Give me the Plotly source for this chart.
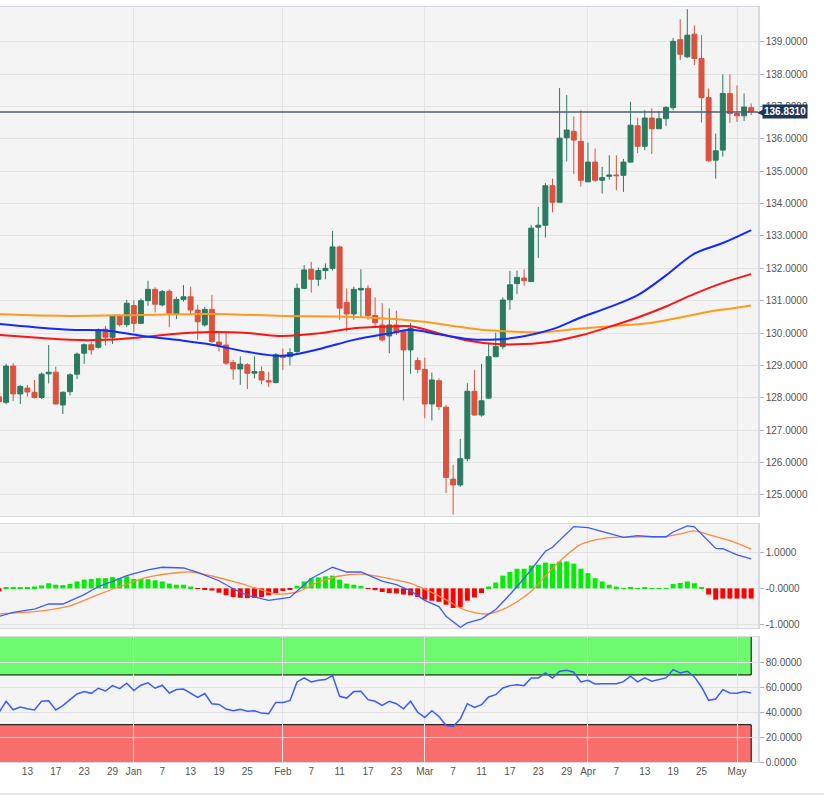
import pandas as pd
import plotly.graph_objects as go

# ---------------- data ----------------
dates = pd.bdate_range("2021-12-07", "2022-05-04")          # trading days shown
bars = list(range(len(dates)))                                # bar number on the trading-day axis
pos = {d.strftime("%Y-%m-%d"): i for i, d in enumerate(dates)}

opens = [128.03, 127.86, 128.98, 128.12, 128.30, 128.17, 128.01, 128.74, 128.79, 127.78,
         128.19, 128.73, 129.38, 129.64, 129.56, 130.12, 129.87, 130.53, 130.26, 130.85,
         130.30, 131.00, 131.35, 130.87, 131.29, 130.58, 131.04, 131.12, 130.71, 130.25,
         130.73, 129.72, 129.63, 129.09, 128.89, 129.02, 128.76, 128.81, 128.53, 128.47,
         129.29, 129.27, 129.43, 131.38, 131.97, 131.66, 131.93, 132.00, 132.66, 130.94,
         130.59, 131.33, 131.38, 130.54, 130.25, 129.91, 130.25, 130.05, 129.48, 129.15,
         128.88, 127.81, 128.53, 127.71, 125.49, 125.31, 126.12, 128.20, 127.47, 127.99,
         129.27, 129.58, 131.03, 131.53, 131.70, 131.59, 133.27, 133.33, 134.55, 134.04,
         136.03, 136.23, 135.92, 134.67, 135.28, 134.72, 134.84, 134.88, 134.87, 135.28,
         136.40, 135.77, 136.64, 136.31, 136.62, 136.96, 139.06, 138.53, 139.23, 138.48,
         137.27, 135.34, 135.65, 137.40, 136.78, 136.71, 136.96]
highs = [128.10, 129.05, 129.07, 128.40, 128.40, 128.55, 128.78, 129.63, 128.96, 128.20,
         128.76, 129.40, 129.68, 129.73, 130.14, 130.22, 130.56, 130.59, 131.02, 131.02,
         131.07, 131.62, 131.41, 131.33, 131.35, 131.12, 131.48, 131.43, 130.87, 130.81,
         131.18, 130.00, 130.05, 129.17, 129.28, 129.07, 129.28, 128.97, 128.81, 129.38,
         129.52, 129.53, 131.53, 132.10, 132.20, 132.03, 132.15, 133.15, 132.70, 131.38,
         131.43, 131.97, 131.48, 131.10, 130.92, 130.76, 130.69, 130.10, 130.31, 129.25,
         129.24, 128.78, 128.60, 127.78, 125.93, 126.73, 128.45, 128.86, 129.05, 129.69,
         130.01, 131.10, 131.92, 131.93, 131.97, 133.34, 133.89, 134.63, 134.77, 137.57,
         137.35, 136.69, 136.88, 135.88, 135.70, 135.13, 135.49, 135.49, 135.38, 137.14,
         136.65, 136.88, 136.94, 136.86, 137.00, 139.11, 139.69, 140.00, 139.50, 139.20,
         137.55, 136.16, 137.99, 137.99, 137.65, 137.40, 137.09]
lows = [127.80, 127.80, 127.90, 127.81, 128.04, 127.98, 127.96, 128.44, 127.81, 127.50,
        128.07, 128.58, 129.05, 129.33, 129.52, 129.62, 129.66, 130.20, 130.18, 130.03,
        130.28, 130.84, 130.64, 130.82, 130.18, 130.43, 130.97, 130.61, 129.79, 130.20,
        129.69, 129.43, 129.02, 128.56, 128.40, 128.27, 128.60, 128.42, 128.33, 128.45,
        128.86, 129.00, 129.38, 131.35, 131.25, 131.45, 131.66, 131.93, 130.41, 130.05,
        130.41, 130.50, 130.41, 130.18, 129.74, 129.38, 129.94, 127.92, 128.74, 128.76,
        127.37, 127.30, 127.62, 125.06, 124.39, 125.25, 126.04, 127.45, 127.42, 127.99,
        129.25, 129.50, 130.72, 131.21, 131.46, 131.59, 132.32, 132.95, 133.73, 134.04,
        135.30, 134.91, 134.52, 134.67, 134.67, 134.31, 134.74, 134.41, 134.36, 135.28,
        135.56, 135.65, 135.53, 136.30, 136.40, 136.88, 138.43, 138.50, 138.28, 136.50,
        135.29, 134.77, 135.45, 136.49, 136.52, 136.55, 136.73]
closes = [127.88, 128.98, 128.12, 128.35, 128.18, 128.01, 128.73, 128.79, 127.81, 128.17,
          128.71, 129.35, 129.64, 129.48, 130.10, 129.87, 130.53, 130.26, 130.92, 130.30,
          131.00, 131.35, 130.89, 131.28, 130.61, 131.04, 131.12, 130.71, 130.35, 130.73,
          129.74, 129.63, 129.07, 128.89, 129.04, 128.76, 128.81, 128.55, 128.49, 129.33,
          129.25, 129.40, 131.38, 131.95, 131.66, 131.93, 132.00, 132.66, 130.77, 130.59,
          131.35, 131.38, 130.54, 130.32, 129.79, 130.25, 130.01, 129.48, 130.15, 128.88,
          127.81, 128.55, 127.73, 125.54, 125.31, 126.12, 128.20, 127.47, 127.91, 129.27,
          129.58, 131.02, 131.49, 131.72, 131.62, 133.24, 133.33, 134.55, 134.04, 136.02,
          136.27, 135.96, 134.72, 135.28, 134.72, 134.80, 134.88, 134.86, 135.28, 136.42,
          135.77, 136.64, 136.31, 136.62, 136.97, 139.01, 138.61, 139.20, 138.48, 137.27,
          135.32, 135.63, 137.40, 136.78, 136.71, 136.98, 136.831]

# moving averages (read at selected bars)
ma_blue_bar = [0, 5, 10, 15, 20, 25, 30, 35, 40, 45, 50, 55, 58, 62, 66, 70, 74, 78, 82, 86, 90, 94, 98, 102, 106]
ma_blue = [130.28, 130.18, 130.10, 130.08, 129.92, 129.79, 129.64, 129.42, 129.30, 129.50, 129.79, 129.99, 130.10,
           129.96, 129.82, 129.80, 129.90, 130.12, 130.48, 130.80, 131.17, 131.78, 132.45, 132.78, 133.18]
ma_red_bar = [0, 5, 10, 15, 20, 25, 30, 35, 40, 45, 50, 55, 58, 62, 66, 70, 74, 78, 82, 86, 90, 94, 98, 102, 106]
ma_red = [129.94, 129.86, 129.79, 129.79, 129.87, 129.98, 130.03, 130.00, 129.91, 129.99, 130.15, 130.20, 130.21,
          129.99, 129.77, 129.66, 129.66, 129.74, 129.93, 130.19, 130.48, 130.82, 131.21, 131.55, 131.82]
ma_orange_bar = [0, 10, 20, 30, 40, 47, 52, 57, 60, 64, 68, 72, 77, 82, 88, 92, 96, 100, 103, 106]
ma_orange = [130.58, 130.53, 130.56, 130.59, 130.53, 130.51, 130.48, 130.41, 130.35, 130.22, 130.10, 130.05,
             130.03, 130.14, 130.24, 130.32, 130.48, 130.66, 130.75, 130.85]

# MACD
macd_hist = [-0.08, 0.02, 0.03, 0.03, 0.04, 0.05, 0.08, 0.14, 0.10, 0.09,
             0.12, 0.19, 0.24, 0.26, 0.28, 0.28, 0.31, 0.28, 0.33, 0.26,
             0.26, 0.25, 0.22, 0.19, 0.13, 0.10, 0.10, 0.05, -0.01, -0.02,
             -0.06, -0.12, -0.19, -0.24, -0.26, -0.27, -0.26, -0.24, -0.19, -0.13,
             -0.07, -0.04, 0.07, 0.19, 0.28, 0.30, 0.33, 0.35, 0.24, 0.13,
             0.10, 0.07, -0.01, -0.05, -0.10, -0.13, -0.14, -0.17, -0.19, -0.24,
             -0.31, -0.34, -0.37, -0.45, -0.54, -0.52, -0.34, -0.25, -0.13, 0.05,
             0.16, 0.35, 0.45, 0.54, 0.54, 0.63, 0.65, 0.71, 0.67, 0.74,
             0.74, 0.68, 0.54, 0.42, 0.28, 0.19, 0.10, 0.05, 0.01, 0.04,
             0.01, 0.03, 0.01, 0.005, 0.005, 0.12, 0.15, 0.19, 0.14, 0.02,
             -0.17, -0.31, -0.28, -0.28, -0.28, -0.28, -0.28]
macd_bar = [0, 2, 4, 5, 7, 9, 12, 14, 16, 18, 21, 23, 26, 28, 31, 33, 35, 38, 41, 44, 47, 49, 51, 54, 56, 58,
            60, 62, 63, 65, 66, 68, 70, 72, 74, 77, 78, 81, 83, 85, 88, 90, 92, 94, 95, 97, 98, 101, 102, 104, 106]
macd_line = [-0.77, -0.66, -0.60, -0.57, -0.43, -0.43, -0.17, 0.05, 0.19, 0.35, 0.51, 0.58, 0.56, 0.44, 0.21,
             -0.01, -0.19, -0.33, -0.25, 0.27, 0.58, 0.45, 0.45, 0.20, 0.10, -0.07, -0.33, -0.50, -0.77, -1.07,
             -0.95, -0.84, -0.58, -0.17, 0.27, 1.02, 1.13, 1.70, 1.67, 1.57, 1.40, 1.45, 1.42, 1.42, 1.55, 1.72,
             1.69, 1.10, 1.09, 0.92, 0.81]
signal_bar = [0, 5, 10, 14, 18, 21, 25, 27, 30, 33, 36, 39, 42, 45, 48, 51, 55, 58, 60, 63, 65, 67, 69, 71, 73,
              75, 78, 80, 82, 85, 88, 91, 94, 96, 98, 100, 103, 106]
signal_line = [-0.70, -0.64, -0.48, -0.17, 0.12, 0.31, 0.43, 0.45, 0.34, 0.19, 0.02, -0.15, -0.10, 0.17, 0.34,
               0.39, 0.27, 0.14, -0.02, -0.31, -0.54, -0.67, -0.70, -0.58, -0.37, -0.08, 0.55, 0.92, 1.21, 1.37,
               1.41, 1.42, 1.42, 1.50, 1.58, 1.48, 1.31, 1.08]

# RSI
rsi = [39.9, 48.8, 42.0, 44.2, 42.8, 41.8, 48.8, 49.3, 41.8, 45.3,
       50.1, 54.7, 56.6, 55.2, 59.3, 57.1, 61.4, 59.0, 63.3, 57.4,
       61.7, 63.6, 59.3, 61.7, 55.5, 58.2, 58.7, 55.0, 52.0, 55.0,
       46.9, 46.3, 42.6, 41.2, 42.3, 40.9, 41.2, 39.3, 38.8, 47.9,
       47.9, 49.3, 64.4, 67.6, 64.4, 65.7, 66.3, 69.5, 52.8, 51.4,
       56.6, 56.8, 50.1, 48.8, 45.5, 48.8, 46.9, 42.8, 48.8, 40.0,
       35.8, 41.2, 36.6, 29.4, 28.6, 34.5, 46.9, 43.9, 46.1, 52.3,
       54.1, 59.5, 61.4, 62.2, 61.4, 67.6, 67.6, 71.6, 67.6, 73.0,
       73.8, 72.2, 64.4, 65.7, 62.8, 63.0, 63.0, 63.0, 64.6, 69.0,
       64.4, 67.6, 64.9, 66.3, 67.6, 74.3, 71.6, 73.0, 68.4, 60.3,
       49.6, 50.6, 58.2, 55.5, 55.2, 56.6, 55.5]
rsi_overbought = 70
rsi_oversold = 30

price_ticks = list(range(125, 140))
tick_dates = ["2021-12-07", "2021-12-13", "2021-12-17", "2021-12-23", "2021-12-29", "2022-01-03",
              "2022-01-07", "2022-01-13", "2022-01-19", "2022-01-25", "2022-02-01", "2022-02-07",
              "2022-02-11", "2022-02-17", "2022-02-23", "2022-03-01", "2022-03-07", "2022-03-11",
              "2022-03-17", "2022-03-23", "2022-03-29", "2022-04-01", "2022-04-07", "2022-04-13",
              "2022-04-19", "2022-04-25", "2022-05-02"]
tick_labels = ["7", "13", "17", "23", "29", "Jan", "7", "13", "19", "25", "Feb", "7", "11", "17", "23",
               "Mar", "7", "11", "17", "23", "29", "Apr", "7", "13", "19", "25", "May"]
month_dates = ["2022-01-03", "2022-02-01", "2022-03-01", "2022-04-01", "2022-05-02"]

# ---------------- style ----------------
UP = "#2b7a62"
DN = "#d9533f"
GRID = "#e3e3e3"
BORDER = "#d6d8e2"
TXT = "#555555"
FONT = "Liberation Sans, Arial, sans-serif"
XR = [0.14, 106.96]

tick_pos = [pos[d] for d in tick_dates]
month_pos = [pos[d] for d in month_dates]

fig = go.Figure()

fig.add_trace(go.Candlestick(
    x=bars, open=opens, high=highs, low=lows, close=closes,
    increasing=dict(line=dict(color=UP, width=1), fillcolor=UP),
    decreasing=dict(line=dict(color=DN, width=1), fillcolor=DN),
    whiskerwidth=0, showlegend=False, hoverinfo="skip", xaxis="x", yaxis="y"))

for bx, vals, col in [(ma_orange_bar, ma_orange, "#ff9a1f"),
                      (ma_red_bar, ma_red, "#ff1414"),
                      (ma_blue_bar, ma_blue, "#1428ff")]:
    fig.add_trace(go.Scatter(x=bx, y=vals, mode="lines",
                             line=dict(color=col, width=2, shape="spline", smoothing=1),
                             showlegend=False, hoverinfo="skip", xaxis="x", yaxis="y"))

fig.add_trace(go.Bar(x=bars, y=macd_hist,
                     marker=dict(color=["#00ee00" if v >= 0 else "#ff0000" for v in macd_hist], line=dict(width=0)),
                     showlegend=False, hoverinfo="skip", xaxis="x2", yaxis="y2"))
fig.add_trace(go.Scatter(x=signal_bar, y=signal_line, mode="lines",
                         line=dict(color="#ff8a3d", width=1.3, shape="spline", smoothing=0.8),
                         showlegend=False, hoverinfo="skip", xaxis="x2", yaxis="y2"))
fig.add_trace(go.Scatter(x=macd_bar, y=macd_line, mode="lines",
                         line=dict(color="#3c5bff", width=1.3),
                         showlegend=False, hoverinfo="skip", xaxis="x2", yaxis="y2"))

fig.add_trace(go.Scatter(x=bars, y=rsi, mode="lines", line=dict(color="#3c5bff", width=1.5),
                         showlegend=False, hoverinfo="skip", xaxis="x3", yaxis="y3"))

H = 797 - 7 - 35
def dom(top_px, bot_px):
    return [(762 - bot_px) / H, (762 - top_px) / H]

xcommon = dict(range=XR, showline=True, mirror=True, linecolor=BORDER, linewidth=1,
               zeroline=False, fixedrange=True)
ycommon = dict(side="right", showline=True, linecolor=BORDER, linewidth=1.5, gridcolor=GRID,
               zeroline=False, ticks="outside", ticklen=4, tickcolor="#aab0bc",
               tickfont=dict(size=10, color=TXT, family=FONT))

fig.update_layout(
    width=824, height=797,
    margin=dict(l=0, r=66, t=7, b=35),
    paper_bgcolor="white", plot_bgcolor="#f4f4f4",
    font=dict(family=FONT, color=TXT),
    showlegend=False, bargap=0.3, boxgap=0.3, boxgroupgap=0,
    xaxis=dict(domain=[0, 1], anchor="y", tickmode="array", tickvals=month_pos, showticklabels=False,
               showgrid=True, gridcolor=GRID, rangeslider=dict(visible=False), **xcommon),
    xaxis2=dict(domain=[0, 1], anchor="y2", tickmode="array", tickvals=month_pos, showticklabels=False,
                showgrid=True, gridcolor=GRID, **xcommon),
    xaxis3=dict(domain=[0, 1], anchor="y3", tickmode="array", tickvals=tick_pos, ticktext=tick_labels,
                showgrid=False, ticks="", tickfont=dict(size=10, color=TXT, family=FONT),
                minor=dict(tickmode="array", tickvals=month_pos, showgrid=True, gridcolor=GRID, ticks=""),
                **xcommon),
    yaxis=dict(domain=dom(7, 516), anchor="x", range=[124.35, 140.07], tickmode="array",
               tickvals=price_ticks, ticktext=[f"{v:.4f}" for v in price_ticks], **ycommon),
    yaxis2=dict(domain=dom(524, 628), anchor="x2", range=[-1.09, 1.77], tickmode="array",
                tickvals=[-1, 0, 1], ticktext=["-1.0000", "-0.0000", "1.0000"], **ycommon),
    yaxis3=dict(domain=dom(637, 762), anchor="x3", range=[0, 100.5], tickmode="array",
                tickvals=[0, 20, 40, 60, 80], ticktext=[f"{v:.4f}" for v in [0, 20, 40, 60, 80]], **ycommon),
)

# RSI zones
fig.add_shape(type="rect", xref="x3", yref="y3", x0=bars[0] - 2, x1=bars[-1], y0=rsi_overbought, y1=102,
              fillcolor="rgba(0,255,0,0.55)", line=dict(color="black", width=1), layer="below")
fig.add_shape(type="rect", xref="x3", yref="y3", x0=bars[0] - 2, x1=bars[-1], y0=-2, y1=rsi_oversold,
              fillcolor="rgba(255,0,0,0.55)", line=dict(color="black", width=1), layer="below")

# current price line + label
last = closes[-1]
fig.add_shape(type="line", xref="paper", yref="y", x0=0, x1=1, y0=last, y1=last,
              line=dict(color="#515d76", width=1.5), layer="above")
fig.add_annotation(xref="paper", yref="y", x=1, y=last, xanchor="left", yanchor="middle", xshift=4,
                   text=f"<b>{last:.4f}</b>", showarrow=False, bgcolor="#1f3658", borderpad=1,
                   font=dict(size=10, color="white", family=FONT))
fig.add_annotation(xref="paper", yref="y", x=1, y=last, xanchor="left", yanchor="middle", xshift=-3,
                   text="◀", showarrow=False, font=dict(size=9, color="#1f3658", family="DejaVu Sans"))

# bottom frame line
fig.add_shape(type="line", xref="paper", yref="paper", x0=-0.01, x1=1.1, y0=-32 / H, y1=-32 / H,
              line=dict(color="#e4e4ec", width=2))

fig.write_html("out.html")
